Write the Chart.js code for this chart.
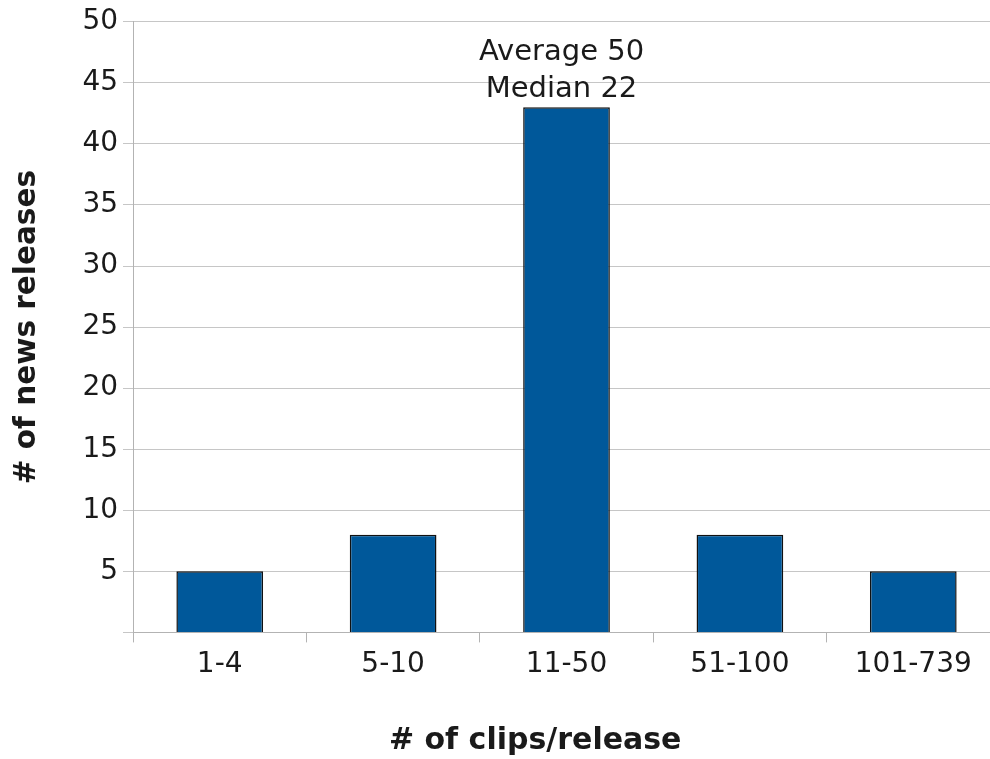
<!DOCTYPE html>
<html>
<head>
<meta charset="utf-8">
<script src="https://cdn.jsdelivr.net/npm/chart.js@4.4.0/dist/chart.umd.min.js"></script>
<style>
  html, body { margin: 0; padding: 0; background: #fff; overflow: hidden; }
  #wrap { position: absolute; left: 0; top: 0; width: 1000px; height: 759px; }
</style>
</head>
<body>
<div id="wrap"><canvas id="histChart"></canvas></div>
<script>
const categories = ['1-4', '5-10', '11-50', '51-100', '101-739'];
const releaseCounts = [5, 8, 43, 8, 5];
const noteLines = ['Average 50', 'Median 22'];
const noteIndex = 2;

const textColor = '#1a1a1a';
const fontFamily = '"DejaVu Sans", sans-serif';

// note above the tallest bar
const notePlugin = {
    id: 'barNote',
    afterDatasetsDraw(chart) {
        const bar = chart.getDatasetMeta(0).data[noteIndex];
        if (!bar) return;
        const c = chart.ctx;
        c.save();
        c.font = '29px ' + fontFamily;
        c.fillStyle = textColor;
        c.textAlign = 'center';
        c.textBaseline = 'alphabetic';
        c.fillText(noteLines[1], bar.x - 5, bar.y - 10);
        c.fillText(noteLines[0], bar.x - 5, bar.y - 47);
        c.restore();
    }
};

new Chart(document.getElementById('histChart'), {
    type: 'bar',
    data: {
        labels: categories,
        datasets: [{
            data: releaseCounts,
            backgroundColor: '#00589a',
            borderColor: '#111',
            borderWidth: 1.5,
            barPercentage: 0.5,
            categoryPercentage: 1.0
        }]
    },
    options: {
        responsive: true,
        maintainAspectRatio: false,
        animation: false,
        layout: { padding: { top: 6, left: 10, right: 0, bottom: 0 } },
        plugins: { legend: { display: false }, tooltip: { enabled: false } },
        scales: {
            x: {
                offset: true,
                grid: { offset: true, drawOnChartArea: false, color: '#b3b3b3', tickLength: 10 },
                border: { color: '#b3b3b3', width: 1 },
                ticks: { color: textColor, font: { family: fontFamily, size: 28 }, padding: 6 },
                title: {
                    display: true,
                    // trailing spaces nudge the title left like the original
                    text: '# of clips/release' + '\u00a0'.repeat(6),
                    color: textColor,
                    font: { family: fontFamily, size: 30, weight: 'bold' },
                    padding: { top: 35, bottom: 0 }
                }
            },
            y: {
                min: 0,
                max: 50,
                grid: { color: '#c6c6c6', tickLength: 10 },
                border: { color: '#b3b3b3', width: 1 },
                ticks: {
                    stepSize: 5,
                    color: textColor,
                    font: { family: fontFamily, size: 28 },
                    padding: 5,
                    callback: v => v === 0 ? '' : v
                },
                title: {
                    display: true,
                    text: '# of news releases',
                    color: textColor,
                    font: { family: fontFamily, size: 29.5, weight: 'bold' },
                    padding: { top: 0, bottom: 32 }
                }
            }
        }
    },
    plugins: [notePlugin]
});
</script>
</body>
</html>
